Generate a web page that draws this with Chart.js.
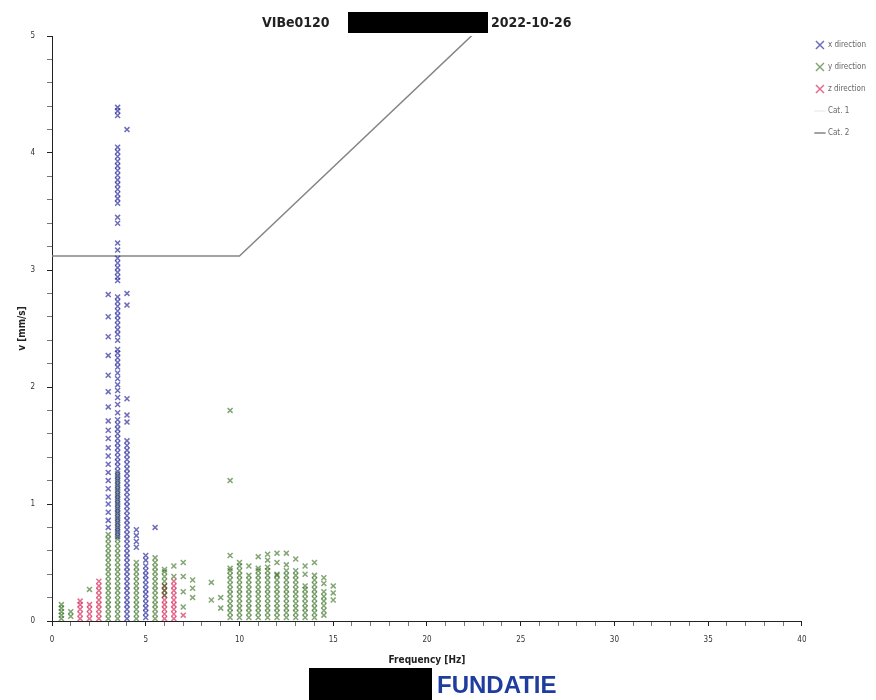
<!DOCTYPE html>
<html>
<head>
<meta charset="utf-8">
<script src="https://cdn.jsdelivr.net/npm/chart.js@4.4.0/dist/chart.umd.min.js"></script>
<style>
  body { margin: 0; background: #fff; }
  #wrap { position: relative; width: 876px; height: 700px; }
  #wrap canvas { position: absolute; left: 0; top: 0; }
  .t { position: absolute; font-family: "DejaVu Sans Condensed", "Liberation Sans Narrow", sans-serif; font-weight: bold; font-size: 14px; color: #222; line-height: 20px; white-space: nowrap; }
  .box { position: absolute; background: #000; }
  #fund { position: absolute; left: 437px; top: 671px; font-family: "Liberation Sans", Arial, sans-serif; font-weight: bold; font-size: 24px; line-height: 28px; color: #1f3d9e; }
</style>
</head>
<body>
<div id="wrap">
  <canvas id="vibChart" width="876" height="700"></canvas>
  <div class="t" style="left:262px; top:12px;">VIBe0120</div>
  <div class="box" style="left:348px; top:12px; width:140px; height:21px;"></div>
  <div class="t" style="left:491px; top:12px;">2022-10-26</div>
  <div class="box" style="left:309px; top:668px; width:123px; height:32px;"></div>
  <div id="fund">FUNDATIE</div>
</div>
<script>
// frequency columns (Hz) and the velocities read in each column (mm/s)
const xDirFreq = [3.0, 3.5, 4.0, 4.5, 5.0, 5.5];
const xDirVals = [
  [0.8, 0.86, 0.93, 1.0, 1.06, 1.13, 1.2, 1.27, 1.34, 1.41, 1.48, 1.56, 1.63, 1.71, 1.83, 1.96, 2.1, 2.27, 2.43, 2.6, 2.79],
  [0.72, 0.76, 0.8, 0.84, 0.88, 0.92, 0.96, 1.0, 1.04, 1.08, 1.12, 1.16, 1.2, 1.24, 1.28, 1.32, 1.36, 1.4, 1.44, 1.48,
   1.52, 1.56, 1.6, 1.64, 1.68, 1.72, 1.78, 1.85, 1.91, 1.97, 2.02, 2.07, 2.12, 2.17, 2.21, 2.25, 2.29, 2.32, 2.4, 2.45,
   2.49, 2.53, 2.57, 2.61, 2.65, 2.69, 2.73, 2.77, 2.91, 2.94, 2.98, 3.02, 3.06, 3.1, 3.17, 3.23, 3.4, 3.45,
   3.57, 3.61, 3.65, 3.69, 3.73, 3.77, 3.81, 3.85, 3.89, 3.93, 3.97, 4.01, 4.05, 4.32, 4.36, 4.39],
  [0.02, 0.06, 0.1, 0.14, 0.18, 0.22, 0.26, 0.3, 0.34, 0.38, 0.42, 0.46, 0.5, 0.54, 0.58, 0.62, 0.66, 0.7, 0.74, 0.78,
   0.82, 0.86, 0.9, 0.94, 0.98, 1.02, 1.06, 1.1, 1.14, 1.18, 1.22, 1.26, 1.3, 1.34, 1.38, 1.42, 1.46, 1.5, 1.54,
   1.7, 1.76, 1.9, 2.7, 2.8, 4.2],
  [0.63, 0.68, 0.73, 0.78],
  [0.03, 0.07, 0.11, 0.15, 0.19, 0.23, 0.27, 0.31, 0.35, 0.39, 0.43, 0.47, 0.52, 0.56],
  [0.8]
];

const yDirFreq = [0.5, 1.0, 2.0, 3.0, 3.5, 4.5, 5.5, 6.0, 6.5, 7.0, 7.5, 8.5, 9.0, 9.5, 10.0, 10.5, 11.0, 11.5, 12.0, 12.5, 13.0, 13.5, 14.0, 14.5, 15.0];
const yDirVals = [
  [0.02, 0.05, 0.08, 0.11, 0.14],
  [0.04, 0.08],
  [0.27],
  [0.02, 0.06, 0.1, 0.14, 0.18, 0.22, 0.26, 0.3, 0.34, 0.38, 0.42, 0.46, 0.5, 0.54, 0.58, 0.62, 0.66, 0.7, 0.74],
  [0.02, 0.06, 0.1, 0.14, 0.18, 0.22, 0.26, 0.3, 0.34, 0.38, 0.42, 0.46, 0.5, 0.54, 0.58, 0.62, 0.66, 0.7, 0.74, 0.78,
   0.82, 0.86, 0.9, 0.94, 0.98, 1.02, 1.06, 1.1, 1.14, 1.18, 1.22, 1.26],
  [0.02, 0.06, 0.1, 0.14, 0.18, 0.22, 0.26, 0.3, 0.34, 0.38, 0.42, 0.46, 0.5],
  [0.02, 0.06, 0.1, 0.14, 0.18, 0.22, 0.26, 0.3, 0.34, 0.38, 0.42, 0.46, 0.5, 0.54],
  [0.22, 0.26, 0.3, 0.34, 0.38, 0.42, 0.44],
  [0.38, 0.47],
  [0.12, 0.25, 0.38, 0.5],
  [0.2, 0.28, 0.35],
  [0.18, 0.33],
  [0.11, 0.2],
  [0.03, 0.07, 0.11, 0.15, 0.19, 0.23, 0.27, 0.31, 0.35, 0.39, 0.43, 0.45, 0.56, 1.2, 1.8],
  [0.03, 0.07, 0.11, 0.15, 0.19, 0.23, 0.27, 0.31, 0.35, 0.39, 0.43, 0.47, 0.5],
  [0.03, 0.07, 0.11, 0.15, 0.19, 0.23, 0.27, 0.31, 0.35, 0.39, 0.47],
  [0.03, 0.07, 0.11, 0.15, 0.19, 0.23, 0.27, 0.31, 0.35, 0.39, 0.43, 0.45, 0.55],
  [0.03, 0.07, 0.11, 0.15, 0.19, 0.23, 0.27, 0.31, 0.35, 0.39, 0.43, 0.46, 0.52, 0.57],
  [0.03, 0.07, 0.11, 0.15, 0.19, 0.23, 0.27, 0.31, 0.35, 0.39, 0.4, 0.5, 0.58],
  [0.03, 0.07, 0.11, 0.15, 0.19, 0.23, 0.27, 0.31, 0.35, 0.39, 0.43, 0.48, 0.58],
  [0.03, 0.07, 0.11, 0.15, 0.19, 0.23, 0.27, 0.31, 0.35, 0.39, 0.43, 0.53],
  [0.03, 0.07, 0.11, 0.15, 0.19, 0.23, 0.27, 0.3, 0.4, 0.47],
  [0.03, 0.07, 0.11, 0.15, 0.19, 0.23, 0.27, 0.31, 0.35, 0.39, 0.5],
  [0.05, 0.09, 0.13, 0.17, 0.21, 0.25, 0.32, 0.37],
  [0.18, 0.24, 0.3]
];

const zDirFreq = [1.5, 2.0, 2.5, 6.0, 6.5, 7.0];
const zDirVals = [
  [0.02, 0.06, 0.1, 0.14, 0.17],
  [0.02, 0.06, 0.1, 0.14],
  [0.02, 0.06, 0.1, 0.14, 0.18, 0.22, 0.26, 0.3, 0.34],
  [0.02, 0.06, 0.1, 0.14, 0.18, 0.22, 0.26, 0.3],
  [0.02, 0.06, 0.1, 0.14, 0.18, 0.22, 0.26, 0.3, 0.34],
  [0.05]
];

// limit lines
const cat2Freq = [0, 10, 40];
const cat2Vel = [3.12, 3.12, 7.68];

function toPoints(freqs, vals) {
  const pts = [];
  freqs.forEach((f, i) => vals[i].forEach(v => pts.push({ x: f, y: v })));
  return pts;
}

const isWhole = (v, step) => Math.abs(v / step - Math.round(v / step)) < 1e-6;
const axisFont = { family: '"DejaVu Sans Condensed", "Liberation Sans Narrow", sans-serif', size: 8 };
const titleFont = { family: '"DejaVu Sans Condensed", "Liberation Sans Narrow", sans-serif', size: 10, weight: 'bold' };

function scatterSet(label, pts, color) {
  return {
    label: label,
    data: pts,
    pointStyle: 'crossRot',
    pointRadius: 3.5,
    pointBorderWidth: 1.5,
    borderColor: color,
    backgroundColor: color,
    pointHoverRadius: 3.5,
  };
}

const ctx = document.getElementById('vibChart').getContext('2d');
new Chart(ctx, {
  type: 'scatter',
  data: {
    datasets: [
      scatterSet('x direction', toPoints(xDirFreq, xDirVals), 'rgba(30,30,150,0.65)'),
      scatterSet('y direction', toPoints(yDirFreq, yDirVals), 'rgba(40,100,15,0.58)'),
      scatterSet('z direction', toPoints(zDirFreq, zDirVals), 'rgba(210,30,80,0.65)'),
      {
        label: 'Cat. 1',
        data: [],
        showLine: true,
        pointRadius: 0,
        pointStyle: 'line',
        borderColor: '#e4e4e4',
        backgroundColor: '#e4e4e4',
      },
      {
        label: 'Cat. 2',
        data: cat2Freq.map((f, i) => ({ x: f, y: cat2Vel[i] })),
        showLine: true,
        pointRadius: 0,
        pointStyle: 'line',
        borderWidth: 1.5,
        borderColor: '#858585',
        backgroundColor: '#858585',
      },
    ],
  },
  options: {
    responsive: false,
    animation: false,
    layout: { padding: { top: 27, right: 0, left: 0, bottom: 0 } },
    plugins: {
      tooltip: { enabled: false },
      // empty spacer so the plot starts lower than the legend
      title: { display: true, text: '', font: { size: 5 }, padding: { top: 0, bottom: 3 } },
      legend: {
        position: 'right',
        align: 'start',
        labels: {
          usePointStyle: true,
          font: { family: '"DejaVu Sans Condensed", sans-serif', size: 8 },
          color: '#666',
          padding: 14,
        },
      },
    },
    scales: {
      x: {
        type: 'linear',
        min: 0,
        max: 40,
        afterFit: (s) => { s.height = 79; },
        border: { display: true, color: '#222', width: 1 },
        grid: {
          drawOnChartArea: false,
          drawTicks: true,
          tickLength: 5,
          tickColor: (c) => isWhole(c.tick.value, 5) ? '#222' : '#777',
        },
        ticks: {
          stepSize: 1,
          autoSkip: false,
          maxRotation: 0,
          padding: 9,
          font: axisFont,
          color: '#333',
          callback: (v) => isWhole(v, 5) ? String(v) : '',
        },
        title: {
          display: true,
          text: 'Frequency [Hz]',
          font: titleFont,
          color: '#222',
          padding: { top: 4, bottom: 34 },
        },
      },
      y: {
        type: 'linear',
        min: 0,
        max: 5,
        afterFit: (s) => { s.width = 52; },
        border: { display: true, color: '#222', width: 1 },
        grid: {
          drawOnChartArea: false,
          drawTicks: true,
          tickLength: 5,
          tickColor: (c) => isWhole(c.tick.value, 1) ? '#222' : '#777',
        },
        ticks: {
          stepSize: 0.2,
          autoSkip: false,
          padding: 12,
          font: axisFont,
          color: '#333',
          callback: (v) => isWhole(v, 1) ? String(Math.round(v)) : '',
        },
        title: {
          display: true,
          text: 'v [mm/s]',
          font: titleFont,
          color: '#222',
          padding: { top: 16, bottom: 4 },
        },
      },
    },
  },
});
</script>
</body>
</html>
